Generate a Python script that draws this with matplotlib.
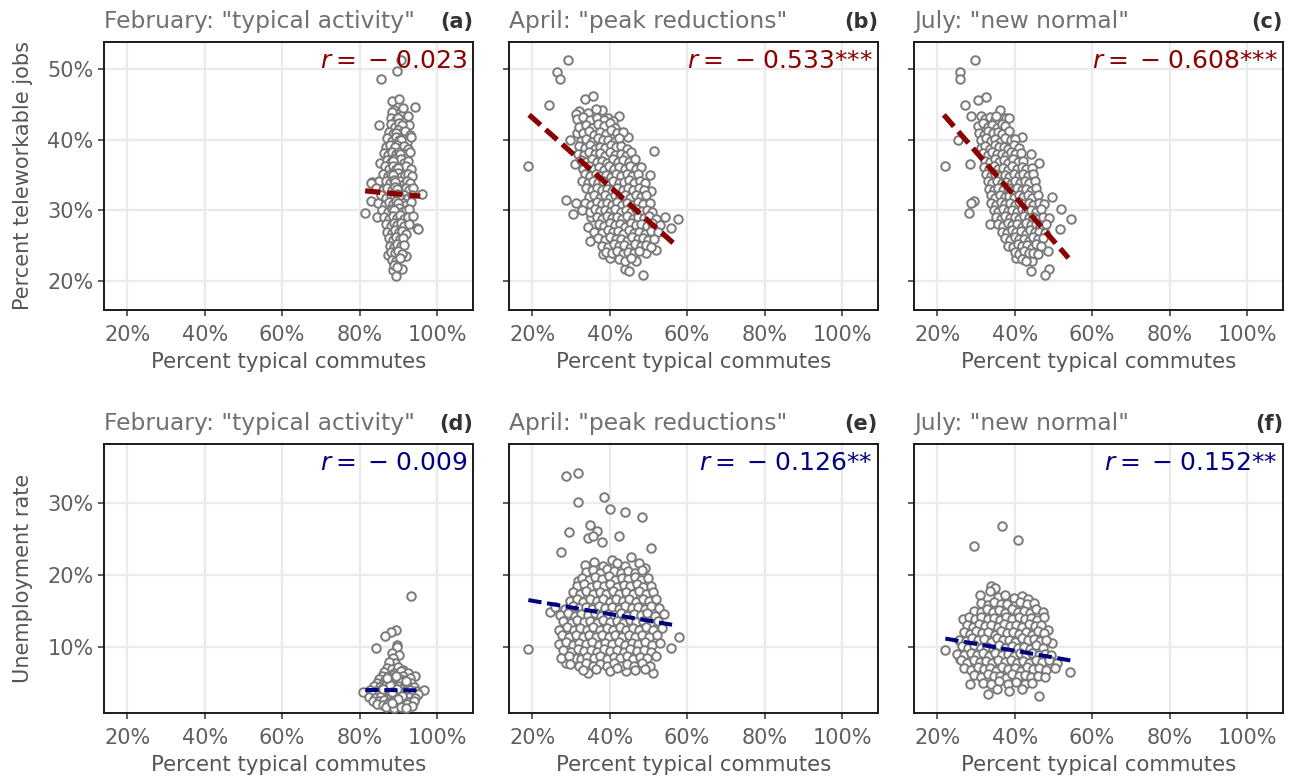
import matplotlib
matplotlib.use("Agg")
import matplotlib.pyplot as plt
from matplotlib.ticker import FuncFormatter

# ---------------- data ----------------
# (percent typical commutes, percent teleworkable jobs)
feb_telework = [
    (90.8,51.2),(89.6,49.7),(85.5,48.6),(88.4,45.4),(90.1,45.7),(94.2,44.6),(84.9,42.1),(85.4,36.7),
    (83.1,34.0),(85.0,34.1),(83.0,31.3),(81.4,29.6),(84.4,29.0),(96.1,32.3),(94.8,27.5),(88.7,21.5),
    (90.9,21.7),(89.3,20.7),(87.4,23.7),(92.1,23.5),(82.9,33.8),(95.1,27.3),
    (89.0,44.2),(90.5,43.8),(91.3,44.4),(88.3,43.9),
    (88.2,43.1),(89.5,42.8),(90.8,43.3),(91.9,42.9),(92.5,43.4),(89.9,43.0),
    (88.0,42.2),(89.2,41.8),(90.3,42.4),(91.5,41.9),(92.8,42.1),(90.9,42.0),
    (87.5,41.1),(88.6,40.8),(89.9,41.3),(90.7,40.9),(91.8,41.2),(93.0,40.7),(89.3,41.0),
    (87.0,40.2),(88.3,39.8),(89.4,40.3),(90.2,39.9),(91.1,40.1),(92.3,39.7),(93.4,40.4),(90.6,40.0),
    (86.8,38.9),(87.9,39.2),(88.8,38.7),(89.7,39.3),(90.6,38.8),(91.5,39.1),(92.6,38.6),(89.1,39.0),
    (86.2,38.1),(87.4,37.8),(88.5,38.3),(89.3,37.9),(90.1,38.2),(91.0,37.7),(92.0,38.0),(93.1,38.3),(90.5,38.0),
    (87.0,37.1),(88.1,36.8),(89.0,37.3),(89.8,36.9),(90.6,37.2),(91.4,36.7),(92.4,37.0),(88.6,37.0),
    (86.5,36.2),(87.6,35.8),(88.6,36.3),(89.5,35.9),(90.3,36.1),(91.2,35.7),(92.1,36.2),(93.2,35.9),(90.0,36.0),
    (86.1,35.1),(87.3,34.8),(88.2,35.2),(89.1,34.9),(89.9,35.3),(90.8,34.7),(91.7,35.0),(92.6,35.2),(93.5,34.8),(88.7,35.0),
    (86.8,34.2),(87.9,33.8),(88.8,34.3),(89.6,33.9),(90.5,34.1),(91.4,33.7),(92.3,34.2),(93.0,33.9),(89.2,34.0),
    (84.2,33.1),(86.0,32.8),(87.2,33.2),(88.3,32.9),(89.2,33.3),(90.1,32.7),(91.0,33.0),(91.9,33.2),(92.9,32.8),(93.8,33.1),(89.7,33.0),
    (85.5,32.2),(86.9,31.8),(88.0,32.1),(88.9,31.7),(89.8,32.3),(90.6,31.9),(91.5,32.2),(92.4,31.8),(93.6,32.1),(90.2,32.0),
    (84.8,31.0),(86.6,30.8),(87.7,31.2),(88.6,30.9),(89.5,31.3),(90.3,30.7),(91.2,31.1),(92.1,30.8),(93.2,31.2),(89.9,31.0),
    (85.9,30.1),(87.3,29.8),(88.4,30.2),(89.3,29.9),(90.1,30.3),(91.0,29.7),(91.9,30.0),(92.9,30.2),(88.9,30.0),
    (86.4,29.1),(87.6,28.8),(88.7,29.2),(89.6,28.9),(90.5,29.3),(91.4,28.7),(92.5,29.0),(93.8,29.2),
    (86.8,28.1),(88.0,27.8),(88.9,28.2),(89.8,27.9),(90.7,28.2),(91.6,27.8),(92.7,28.0),
    (87.2,27.0),(88.3,26.8),(89.2,27.2),(90.1,26.9),(91.0,27.1),(92.0,26.7),
    (87.6,26.1),(88.6,25.8),(89.5,26.2),(90.4,25.9),(91.3,26.1),
    (87.9,25.0),(88.9,24.8),(89.8,25.2),(90.6,24.9),(91.6,25.1),
    (88.1,24.1),(89.2,23.9),(90.0,24.2),(91.0,23.8),
    (88.5,23.0),(89.5,22.8),(90.4,23.2),(88.9,22.2),(89.8,22.0),
]

apr_telework = [
    (19.0,36.2),(29.3,51.2),(26.4,49.5),(27.1,48.5),(24.4,44.9),(33.6,45.7),(35.7,46.2),(37.9,44.2),
    (42.4,43.4),(39.6,43.1),(51.4,38.4),(44.7,40.3),(29.7,40.0),(31.0,36.6),(28.7,31.4),(30.4,29.5),
    (31.4,31.0),(38.3,23.8),(40.0,23.2),(43.9,21.7),(45.1,21.4),(48.6,20.9),(46.9,22.8),(57.6,28.8),
    (55.9,27.5),(54.2,29.1),(52.0,24.4),(49.5,24.0),(35.3,29.1),(34.4,27.7),(34.9,25.6),(50.7,32.7),
    (50.3,35.0),(31.6,41.0),
    (32.0,44.1),(34.5,43.8),(36.5,44.3),(31.2,43.6),
    (31.5,42.9),(33.2,43.2),(35.0,42.7),(36.8,43.0),(38.5,42.8),(40.8,42.6),
    (32.2,41.8),(33.8,42.1),(35.4,41.7),(37.0,42.2),(38.6,41.9),(40.0,42.3),(41.5,41.6),
    (33.0,40.9),(34.6,41.2),(36.0,40.7),(37.5,41.1),(39.0,40.8),(40.4,41.3),(42.0,40.9),(43.5,41.1),
    (32.5,39.8),(34.0,40.1),(35.4,39.7),(36.9,40.2),(38.2,39.9),(39.6,40.0),(41.0,39.6),(42.5,40.2),
    (32.2,39.1),(33.6,38.8),(35.0,39.2),(36.3,38.7),(37.6,39.0),(38.9,38.8),(40.3,39.3),(41.7,38.9),(43.0,39.1),(44.6,38.7),
    (31.8,38.0),(33.3,37.8),(34.7,38.2),(36.1,37.9),(37.4,38.1),(38.7,37.7),(40.0,38.2),(41.4,37.8),(42.8,38.0),(44.2,37.7),(45.6,38.2),
    (32.6,37.1),(34.0,36.8),(35.5,37.2),(36.8,36.9),(38.1,37.0),(39.4,36.7),(40.8,37.2),(42.1,36.8),(43.5,37.1),(45.0,36.9),(46.5,37.2),
    (33.1,35.9),(34.6,36.2),(35.9,35.8),(37.2,36.1),(38.5,35.7),(39.8,36.2),(41.2,35.9),(42.5,36.1),(43.9,35.8),(45.3,36.2),(46.8,35.9),(48.0,36.1),
    (33.6,35.1),(35.0,34.8),(36.4,35.2),(37.7,34.9),(39.0,35.0),(40.3,34.7),(41.6,35.2),(43.0,34.9),(44.4,35.1),(45.8,34.8),(47.2,35.2),
    (32.9,34.1),(34.3,33.8),(35.6,34.2),(37.0,33.9),(38.3,34.1),(39.6,33.7),(40.9,34.2),(42.3,33.8),(43.6,34.0),(45.0,34.3),(46.4,33.9),(47.8,34.1),(49.0,33.8),
    (34.0,33.1),(35.4,32.8),(36.8,33.2),(38.1,32.9),(39.4,33.0),(40.7,32.7),(42.0,33.2),(43.4,32.9),(44.7,33.1),(46.1,32.8),(47.5,33.2),(48.8,32.9),
    (34.6,31.9),(36.0,32.2),(37.4,31.8),(38.7,32.1),(40.0,31.7),(41.3,32.2),(42.6,31.9),(44.0,32.1),(45.3,31.8),(46.7,32.2),(48.1,31.9),(49.5,32.1),
    (33.5,31.0),(35.2,30.8),(36.6,31.2),(38.0,30.9),(39.3,31.1),(40.6,30.7),(41.9,31.2),(43.2,30.8),(44.6,31.0),(45.9,30.7),(47.3,31.2),(48.7,30.9),(50.5,31.1),
    (32.8,30.1),(34.8,29.8),(36.2,30.2),(37.6,29.9),(38.9,30.0),(40.2,29.7),(41.5,30.2),(42.8,29.8),(44.1,30.1),(45.5,29.8),(46.9,30.2),(48.3,29.9),(49.7,30.1),(51.0,29.8),
    (36.6,29.0),(38.0,28.8),(39.4,29.2),(40.7,28.9),(42.0,29.1),(43.3,28.7),(44.6,29.2),(46.0,28.8),(47.4,29.1),(48.8,28.9),(50.2,29.2),(52.0,28.8),
    (37.2,28.1),(38.6,27.8),(40.0,28.2),(41.4,27.9),(42.7,28.0),(44.0,27.7),(45.4,28.2),(46.8,27.9),(48.2,28.1),(49.6,27.8),(51.0,28.2),(53.0,27.9),
    (36.0,27.0),(38.1,26.8),(39.5,27.2),(40.8,26.9),(42.1,27.1),(43.5,26.7),(44.9,27.2),(46.3,26.8),(47.7,27.0),(49.2,26.7),(50.6,27.1),(52.4,26.9),
    (37.0,26.1),(38.7,25.8),(40.2,26.2),(41.6,25.9),(43.0,26.0),(44.4,25.7),(45.8,26.2),(47.2,25.9),(48.6,26.1),(50.0,25.8),(51.5,26.0),
    (38.0,25.0),(39.6,24.8),(41.0,25.2),(42.4,24.9),(43.8,25.1),(45.2,24.7),(46.6,25.2),(48.0,24.9),(49.4,25.1),(50.8,24.8),
    (39.0,24.1),(40.5,23.9),(42.0,24.2),(43.4,23.8),(44.8,24.1),(46.2,23.9),(47.6,24.2),
    (42.5,23.1),(44.0,22.8),(45.5,23.2),
]

jul_telework = [
    (29.8,51.2),(25.9,49.5),(26.0,48.5),(32.7,46.0),(30.4,45.6),(27.3,44.9),(36.2,44.2),(28.7,43.4),
    (37.7,43.1),(38.6,43.1),(42.0,40.4),(25.4,40.0),(22.0,36.2),(28.4,36.6),(46.3,36.7),(44.2,37.9),
    (49.6,31.9),(51.9,30.2),(54.5,28.7),(51.7,27.4),(28.2,29.6),(29.5,31.3),(28.6,31.0),(33.6,28.1),
    (44.1,21.4),(48.9,21.7),(47.8,20.8),(44.6,22.9),(40.3,23.3),(48.5,24.2),
    (31.2,43.3),(32.4,42.9),(33.6,43.2),(34.8,42.8),(35.1,43.4),
    (30.6,41.9),(31.8,42.3),(33.0,41.8),(34.2,42.1),(35.4,41.7),(36.6,42.2),(37.6,41.9),
    (30.8,41.0),(32.0,40.7),(33.2,41.2),(34.4,40.9),(35.6,41.1),(36.8,40.8),(38.6,41.2),
    (31.4,39.9),(32.6,40.2),(33.8,39.8),(35.0,40.1),(36.2,39.7),(37.4,40.2),(39.0,39.9),(40.2,40.1),
    (31.2,38.8),(32.4,39.1),(33.6,38.7),(34.8,39.2),(36.0,38.9),(37.2,39.0),(38.4,38.7),(39.8,39.2),(41.0,38.8),
    (31.8,38.1),(33.0,37.8),(34.2,38.2),(35.4,37.9),(36.6,38.0),(37.8,37.7),(39.0,38.2),(40.2,37.9),(41.6,38.1),
    (32.4,37.0),(33.6,36.8),(34.8,37.2),(36.0,36.9),(37.2,37.1),(38.4,36.7),(39.6,37.2),(40.8,36.9),(42.2,37.0),
    (32.2,36.1),(33.4,35.8),(34.6,36.2),(35.8,35.9),(37.0,36.0),(38.2,35.7),(39.4,36.2),(40.6,35.9),(41.8,36.1),(43.0,35.8),(44.4,36.0),
    (32.6,35.1),(33.8,34.8),(35.0,35.2),(36.2,34.9),(37.4,35.0),(38.6,34.7),(39.8,35.2),(41.0,34.9),(42.2,35.1),(43.4,34.8),(44.8,35.2),
    (33.0,34.1),(34.2,33.8),(35.4,34.2),(36.6,33.9),(37.8,34.0),(39.0,33.7),(40.2,34.2),(41.4,33.9),(42.6,34.1),(43.8,33.8),(45.2,34.1),
    (33.4,33.0),(34.6,32.8),(35.8,33.2),(37.0,32.9),(38.2,33.1),(39.4,32.7),(40.6,33.2),(41.8,32.9),(43.0,33.0),(44.2,32.7),(45.6,33.2),
    (33.8,32.1),(35.0,31.8),(36.2,32.2),(37.4,31.9),(38.6,32.0),(39.8,31.7),(41.0,32.2),(42.2,31.9),(43.4,32.1),(44.6,31.8),(46.0,32.1),
    (34.0,31.0),(35.2,30.8),(36.4,31.2),(37.6,30.9),(38.8,31.1),(40.0,30.7),(41.2,31.2),(42.4,30.9),(43.6,31.0),(44.8,30.7),(46.2,31.1),(47.6,30.9),
    (34.6,30.1),(35.8,29.8),(37.0,30.2),(38.2,29.9),(39.4,30.0),(40.6,29.7),(41.8,30.2),(43.0,29.9),(44.2,30.1),(45.4,29.8),(46.8,30.2),
    (35.2,29.0),(36.4,28.8),(37.6,29.2),(38.8,28.9),(40.0,29.1),(41.2,28.7),(42.4,29.2),(43.6,28.9),(44.8,29.0),(46.0,28.8),(47.4,29.1),(48.8,28.9),
    (35.8,28.1),(37.0,27.8),(38.2,28.2),(39.4,27.9),(40.6,28.0),(41.8,27.7),(43.0,28.2),(44.2,27.9),(45.4,28.1),(46.6,27.8),(48.0,28.0),
    (36.8,27.0),(38.0,26.8),(39.2,27.2),(40.4,26.9),(41.6,27.1),(42.8,26.7),(44.0,27.2),(45.2,26.9),(46.4,27.0),(47.8,26.8),
    (37.6,26.1),(38.8,25.8),(40.0,26.2),(41.2,25.9),(42.4,26.0),(43.6,25.7),(44.8,26.2),(46.0,25.9),(47.4,26.1),
    (38.4,25.0),(39.6,24.8),(40.8,25.2),(42.0,24.9),(43.2,25.1),(44.4,24.7),(45.6,25.2),(46.8,24.9),
    (40.0,24.1),(41.2,23.8),(42.4,24.2),(43.6,23.9),(44.8,24.0),(46.0,23.8),
    (41.8,23.1),(43.0,22.8),
]

# (percent typical commutes, unemployment rate)
feb_unemployment = [
    (93.2,17.1),(89.4,12.3),(88.1,12.1),(86.6,11.5),(89.6,10.3),(89.8,10.0),(84.3,9.9),(88.5,9.1),
    (90.3,8.9),(88.7,8.5),(89.1,7.8),(87.6,7.9),
    (87.0,7.1),(88.4,6.9),(89.9,7.2),(91.3,6.8),
    (86.2,6.5),(88.9,6.4),(90.6,6.6),(92.4,6.3),
    (85.8,6.0),(87.4,5.9),(88.6,6.1),(90.0,5.8),(91.2,6.0),(94.3,6.0),
    (85.0,5.5),(86.7,5.4),(88.0,5.6),(89.3,5.3),(90.5,5.5),(91.8,5.4),(93.0,5.6),
    (84.5,5.0),(86.0,4.9),(87.2,5.1),(88.5,4.8),(89.7,5.0),(90.8,5.1),(92.0,4.9),(93.4,5.0),
    (83.8,4.5),(85.3,4.4),(86.5,4.6),(87.8,4.3),(89.0,4.5),(90.2,4.6),(91.4,4.4),(92.6,4.5),(94.0,4.4),
    (81.0,3.7),(82.6,4.0),(84.2,3.9),(85.7,4.1),(86.9,3.8),(88.2,4.0),(89.4,3.9),(90.6,4.1),(91.8,3.8),
    (93.0,4.0),(94.6,3.9),(96.6,4.0),
    (83.3,3.5),(84.9,3.4),(86.3,3.6),(87.5,3.3),(88.7,3.5),(89.9,3.4),(91.1,3.6),(92.3,3.3),(93.6,3.5),(95.0,3.4),
    (82.5,3.0),(84.0,2.9),(85.5,3.1),(86.8,2.8),(88.0,3.0),(89.2,2.9),(90.4,3.1),(91.6,2.8),(92.8,3.0),(94.2,2.9),
    (83.5,2.5),(85.0,2.4),(86.4,2.6),(87.7,2.3),(89.0,2.5),(90.2,2.4),(91.5,2.6),(92.7,2.3),(94.0,2.5),
    (84.6,2.0),(86.0,1.9),(87.3,2.1),(88.6,1.8),(89.8,2.0),(91.0,1.9),(92.3,2.1),(93.5,1.8),
    (86.8,1.6),(88.9,1.5),(90.7,1.6),(92.1,1.5),
    (87.9,4.7),(89.6,4.2),(90.9,3.2),(88.3,3.7),(86.1,4.2),(91.9,5.2),(89.5,6.0),(87.1,5.7),(90.0,2.7),(88.5,2.2),
]

apr_unemployment = [
    (28.8,33.8),(31.8,34.1),(31.7,30.1),(38.5,30.9),(40.0,29.2),(43.9,28.7),(48.4,28.1),(35.0,27.0),
    (36.6,26.1),(38.0,24.6),(34.4,25.2),(35.7,25.4),(29.5,25.9),(42.3,25.4),(50.7,23.8),(27.4,23.2),
    (19.0,9.7),(57.9,11.4),(55.9,9.9),(24.5,14.9),(34.4,6.4),(44.3,6.6),(51.3,6.3),(28.8,7.8),
    (31.0,8.5),(31.7,19.2),(49.2,20.9),(40.7,22.1),(45.6,22.5),
    (33.5,21.4),(36.0,21.8),(38.2,21.2),(41.8,21.6),(44.0,21.3),(47.5,21.7),
    (34.0,20.4),(35.8,20.7),(37.5,20.3),(39.4,20.8),(41.2,20.5),(43.0,20.2),(44.8,20.6),(46.6,20.3),(48.4,20.7),
    (32.8,19.6),(34.6,19.3),(36.3,19.7),(38.0,19.4),(39.7,19.8),(41.4,19.3),(43.1,19.6),(44.8,19.4),(46.5,19.7),(48.2,19.3),(50.0,19.6),
    (31.6,18.4),(33.4,18.7),(35.1,18.3),(36.8,18.6),(38.5,18.4),(40.2,18.7),(41.9,18.3),(43.6,18.6),(45.3,18.4),(47.0,18.7),(48.7,18.3),(50.6,18.5),
    (30.6,17.6),(32.3,17.3),(34.0,17.7),(35.7,17.4),(37.4,17.6),(39.1,17.3),(40.8,17.7),(42.5,17.4),(44.2,17.6),(45.9,17.3),(47.6,17.7),(49.3,17.4),(51.2,17.6),
    (29.8,16.4),(31.5,16.7),(33.2,16.3),(34.9,16.6),(36.6,16.4),(38.3,16.7),(40.0,16.3),(41.7,16.6),(43.4,16.4),(45.1,16.7),(46.8,16.3),(48.5,16.6),(50.2,16.4),(52.0,16.6),
    (26.0,15.6),(28.5,15.3),(30.4,15.7),(32.1,15.4),(33.8,15.6),(35.5,15.3),(37.2,15.7),(38.9,15.4),(40.6,15.6),(42.3,15.3),(44.0,15.7),(45.7,15.4),(47.4,15.6),(49.1,15.3),(50.8,15.7),(52.8,15.4),
    (27.2,14.4),(29.2,14.7),(31.0,14.3),(32.7,14.6),(34.4,14.4),(36.1,14.7),(37.8,14.3),(39.5,14.6),(41.2,14.4),(42.9,14.7),(44.6,14.3),(46.3,14.6),(48.0,14.4),(49.7,14.7),(51.6,14.3),(54.0,14.6),
    (28.0,13.6),(29.9,13.3),(31.6,13.7),(33.3,13.4),(35.0,13.6),(36.7,13.3),(38.4,13.7),(40.1,13.4),(41.8,13.6),(43.5,13.3),(45.2,13.7),(46.9,13.4),(48.6,13.6),(50.4,13.3),(52.4,13.6),
    (27.0,12.4),(28.9,12.7),(30.7,12.3),(32.4,12.6),(34.1,12.4),(35.8,12.7),(37.5,12.3),(39.2,12.6),(40.9,12.4),(42.6,12.7),(44.3,12.3),(46.0,12.6),(47.7,12.4),(49.4,12.7),(51.2,12.3),(53.5,12.6),
    (27.6,11.6),(29.5,11.3),(31.3,11.7),(33.0,11.4),(34.7,11.6),(36.4,11.3),(38.1,11.7),(39.8,11.4),(41.5,11.6),(43.2,11.3),(44.9,11.7),(46.6,11.4),(48.3,11.6),(50.1,11.3),(52.2,11.6),
    (26.8,10.4),(28.6,10.7),(30.4,10.3),(32.1,10.6),(33.8,10.4),(35.5,10.7),(37.2,10.3),(38.9,10.6),(40.6,10.4),(42.3,10.7),(44.0,10.3),(45.7,10.6),(47.4,10.4),(49.1,10.7),(50.9,10.3),(53.0,10.6),
    (28.0,9.6),(29.9,9.3),(31.7,9.7),(33.4,9.4),(35.1,9.6),(36.8,9.3),(38.5,9.7),(40.2,9.4),(41.9,9.6),(43.6,9.3),(45.3,9.7),(47.0,9.4),(48.8,9.6),(50.8,9.3),
    (27.4,8.4),(29.4,8.7),(32.5,8.3),(34.2,8.6),(35.9,8.4),(37.6,8.7),(39.3,8.3),(41.0,8.6),(42.7,8.4),(44.4,8.7),(46.1,8.3),(47.8,8.6),(49.6,8.4),(52.0,8.7),
    (29.8,7.6),(32.0,7.3),(33.8,7.7),(35.6,7.4),(37.4,7.6),(39.2,7.3),(41.0,7.7),(42.8,7.4),(44.6,7.6),(46.4,7.3),(48.3,7.7),(50.3,7.4),
    (33.0,6.8),(36.5,6.9),(40.0,6.7),(42.0,7.0),(46.5,6.8),(49.0,6.9),
]

jul_unemployment = [
    (36.7,26.8),(29.6,24.0),(40.9,24.8),(22.1,9.5),(54.4,6.5),(46.2,3.1),(33.2,3.5),(28.5,4.9),
    (33.8,18.4),(34.8,18.2),(33.6,17.8),(31.1,17.2),(26.6,13.8),(48.5,12.4),(49.7,10.6),(26.0,8.3),
    (35.6,16.9),(37.4,17.2),(39.9,16.8),(41.8,17.1),(43.5,16.7),
    (31.4,16.1),(33.0,15.8),(34.7,16.2),(36.4,15.9),(38.1,16.0),(39.8,15.7),(41.5,16.2),(43.2,15.9),(44.9,16.1),
    (29.6,15.0),(31.2,14.8),(32.8,15.2),(34.4,14.9),(36.0,15.1),(37.6,14.7),(39.2,15.2),(40.8,14.9),(42.4,15.0),(44.0,14.7),(45.6,15.2),(47.2,14.9),
    (28.2,14.1),(29.8,13.8),(31.4,14.2),(33.0,13.9),(34.6,14.0),(36.2,13.7),(37.8,14.2),(39.4,13.9),(41.0,14.1),(42.6,13.8),(44.2,14.0),(45.8,13.7),(47.6,14.1),
    (27.6,13.0),(29.2,12.8),(30.8,13.2),(32.4,12.9),(34.0,13.1),(35.6,12.7),(37.2,13.2),(38.8,12.9),(40.4,13.0),(42.0,12.7),(43.6,13.2),(45.2,12.9),(46.8,13.1),
    (26.8,12.1),(28.4,11.8),(30.0,12.2),(31.6,11.9),(33.2,12.0),(34.8,11.7),(36.4,12.2),(38.0,11.9),(39.6,12.1),(41.2,11.8),(42.8,12.0),(44.4,11.7),(46.0,12.2),(47.6,11.9),
    (25.6,11.0),(27.4,10.8),(29.0,11.2),(30.6,10.9),(32.2,11.1),(33.8,10.7),(35.4,11.2),(37.0,10.9),(38.6,11.0),(40.2,10.7),(41.8,11.2),(43.4,10.9),(45.0,11.1),(46.6,10.8),(48.0,11.0),
    (26.4,10.1),(28.0,9.8),(29.6,10.2),(31.2,9.9),(32.8,10.0),(34.4,9.7),(36.0,10.2),(37.6,9.9),(39.2,10.1),(40.8,9.8),(42.4,10.0),(44.0,9.7),(45.6,10.2),(47.2,9.9),
    (25.2,9.0),(27.0,8.8),(28.6,9.2),(30.2,8.9),(31.8,9.1),(33.4,8.7),(35.0,9.2),(36.6,8.9),(38.2,9.0),(39.8,8.7),(41.4,9.2),(43.0,8.9),(44.6,9.1),(46.2,8.8),(47.8,9.0),(49.4,8.8),
    (26.2,8.1),(27.8,7.8),(29.4,8.2),(31.0,7.9),(32.6,8.0),(34.2,7.7),(35.8,8.2),(37.4,7.9),(39.0,8.1),(40.6,7.8),(42.2,8.0),(43.8,7.7),(45.4,8.2),(47.0,7.9),(48.8,8.1),(51.0,7.8),
    (27.0,7.0),(28.8,6.8),(30.4,7.2),(32.0,6.9),(33.6,7.1),(35.2,6.7),(36.8,7.2),(38.4,6.9),(40.0,7.0),(41.6,6.7),(43.2,7.2),(44.8,6.9),(46.4,7.1),(48.2,6.8),(50.4,7.0),
    (29.6,6.1),(31.4,5.8),(33.0,6.2),(34.6,5.9),(36.2,6.0),(37.8,5.7),(39.4,6.2),(41.0,5.9),(42.6,6.1),(44.2,5.8),(46.0,6.0),(47.8,5.8),
    (31.8,5.0),(34.0,4.8),(36.0,5.2),(38.2,4.9),(40.4,5.1),(42.6,4.8),(44.6,5.0),
    (35.4,4.1),(38.6,3.9),(42.0,4.2),
]

# fitted trend lines: (x_start, x_end), (y_start, y_end)
trend_x = [(81.45, 95.7), (19.2, 57.6), (21.7, 53.9), (81.5, 95.7), (19.0, 57.4), (22.1, 54.5)]
trend_y = [(32.75, 32.0), (43.5, 24.8), (43.5, 23.25), (4.0, 3.95), (16.5, 12.95), (11.15, 8.1)]

titles = ['February: "typical activity"', 'April: "peak reductions"', 'July: "new normal"'] * 2
panel_tags = ["(a)", "(b)", "(c)", "(d)", "(e)", "(f)"]
r_values = ["0.023", "0.533", "0.608", "0.009", "0.126", "0.152"]
r_stars = ["", "***", "***", "", "**", "**"]
x_ticks = [20, 40, 60, 80, 100]
y_ticks_top = [20, 30, 40, 50]
y_ticks_bottom = [10, 20, 30]
x_label = "Percent typical commutes"
y_labels = ["Percent teleworkable jobs", "Unemployment rate"]

panels = [feb_telework, apr_telework, jul_telework,
          feb_unemployment, apr_unemployment, jul_unemployment]

# ---------------- figure ----------------
W, H = 1298, 780
fig = plt.figure(figsize=(W / 100, H / 100), dpi=100)

lefts = [104, 509, 914]
axw = 369
tops = [42, 444]
axh = [268, 269]

pct = FuncFormatter(lambda v, p: f"{v:.0f}%")
tick_col = "#5f5f5f"
line_cols = ["#8B0000", "#000080"]

for i, pts in enumerate(panels):
    row, col = divmod(i, 3)
    ax = fig.add_axes([lefts[col] / W, 1 - (tops[row] + axh[row]) / H, axw / W, axh[row] / H])
    xs = [p[0] for p in pts]
    ys = [p[1] for p in pts]
    ax.scatter(xs, ys, s=38, facecolors="white", edgecolors="#7a7a7a", linewidths=1.4, zorder=3)
    if row == 0:
        ax.plot(trend_x[i], trend_y[i], color=line_cols[0], lw=3.8, dashes=(2.9, 1.3),
                solid_capstyle="butt", dash_capstyle="butt", zorder=4)
        ax.set_ylim(15.9, 53.8)
        ax.set_yticks(y_ticks_top)
    else:
        ax.plot(trend_x[i], trend_y[i], color=line_cols[1], lw=2.9, dashes=(3.3, 1.4),
                solid_capstyle="butt", dash_capstyle="butt", zorder=4)
        ax.set_ylim(0.8, 38.2)
        ax.set_yticks(y_ticks_bottom)
    ax.set_xlim(14.0, 109.3)
    ax.set_xticks(x_ticks)
    ax.xaxis.set_major_formatter(pct)
    ax.yaxis.set_major_formatter(pct)
    ax.grid(True, color="#ebebeb", lw=1.7, zorder=0)
    ax.set_axisbelow(True)
    for sp in ax.spines.values():
        sp.set_color("#1a1a1a")
        sp.set_linewidth(1.4)
    ax.tick_params(axis="both", length=4.5, width=1.1, color="#333333",
                   labelsize=15, labelcolor=tick_col)
    ax.tick_params(axis="x", pad=6)
    ax.tick_params(axis="y", pad=3)
    if col != 0:
        ax.tick_params(axis="y", labelleft=False)
    else:
        ax.set_ylabel(y_labels[row], fontsize=15, color="#555555", labelpad=10)
    ax.set_xlabel(x_label, fontsize=15.3, color="#555555", labelpad=5)
    ax.set_title(titles[i], loc="left", fontsize=16.8, color="#707070", pad=10)
    ax.set_title(panel_tags[i], loc="right", fontsize=15, color="#333333",
                 fontweight="bold", pad=10)
    ax.text(0.985, 0.975, rf"$r =\; {{-}}\; {r_values[i]}$" + r_stars[i], transform=ax.transAxes,
            ha="right", va="top", fontsize=18, color=line_cols[row], zorder=5)

fig.savefig("out.png", dpi=100, facecolor="white")
